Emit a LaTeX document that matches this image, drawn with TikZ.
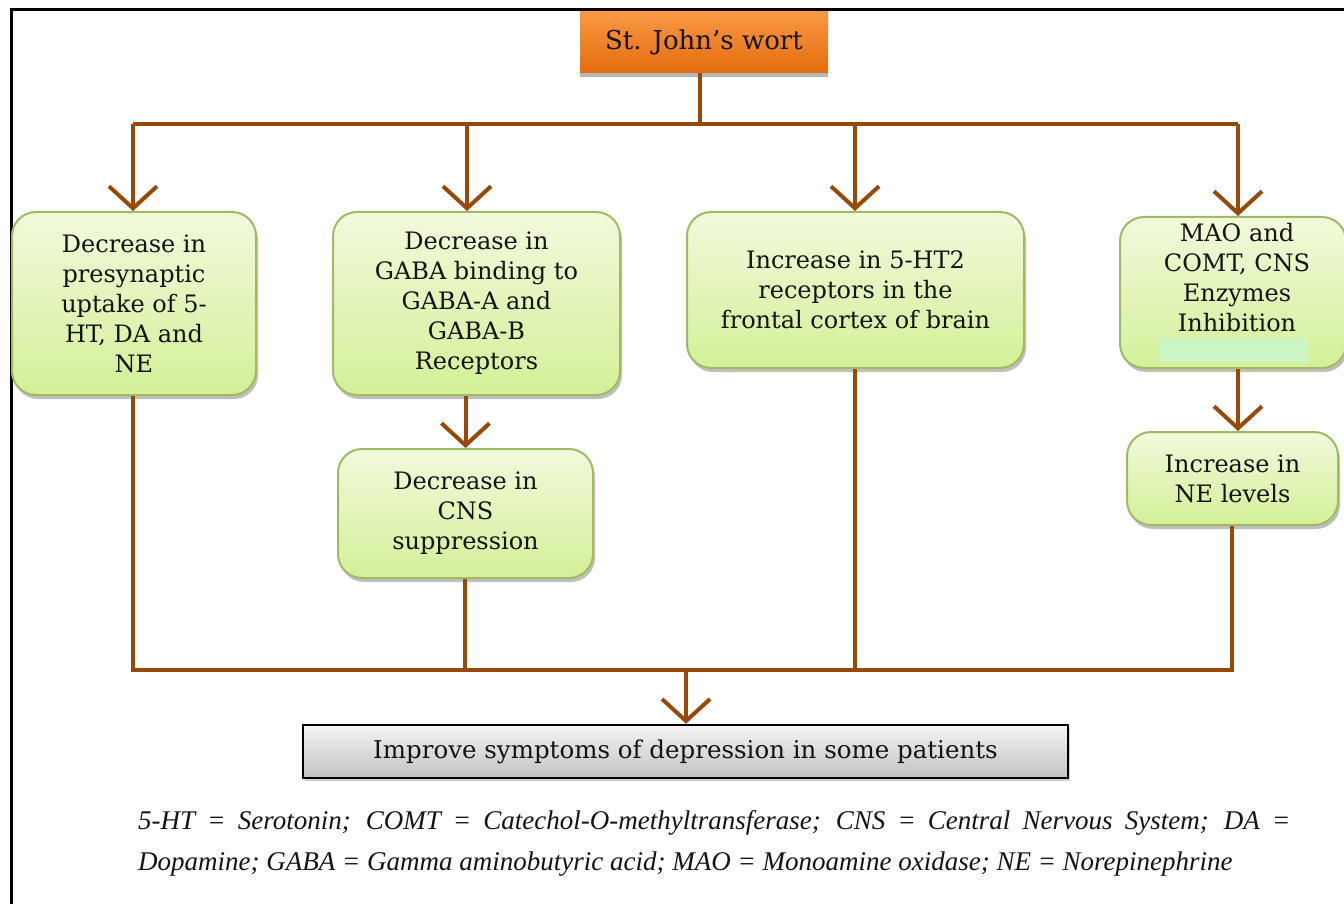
\documentclass[tikz,border=0pt]{standalone}
\usepackage{fontspec}
\newfontfamily\legendfont{Liberation Serif}
\newfontfamily\boxfont{DejaVu Serif}
\usetikzlibrary{arrows.meta,shadows}
\definecolor{conn}{RGB}{152,72,7}
\definecolor{gborder}{RGB}{160,186,100}
\definecolor{gtop}{RGB}{242,249,220}
\definecolor{gbot}{RGB}{212,240,152}
\definecolor{otop}{RGB}{248,152,68}
\definecolor{obot}{RGB}{228,108,12}
\definecolor{txt}{RGB}{20,20,20}
\definecolor{mint}{RGB}{200,248,205}
\begin{document}
\begin{tikzpicture}[x=1pt,y=-1pt,
  conn/.style={draw=conn,line width=4pt},
  arr/.style={conn,-{Straight Barb[length=22pt,width=48pt,line width=4pt]}},
  gbox/.style={draw=gborder,line width=2pt,rounded corners=24pt,top color=gtop,bottom color=gbot,
    align=center,font=\boxfont\fontsize{24}{30}\selectfont,text=txt,inner sep=0pt,
    drop shadow={shadow xshift=2pt,shadow yshift=-4pt,fill=black!45,opacity=.55}},
  btext/.style={align=center,font=\boxfont\fontsize{24}{30}\selectfont,text=txt,inner sep=0pt}]
\useasboundingbox (0,0) rectangle (1344,904);
\fill[white] (0,0) rectangle (1344,904);
% title
\node[top color=otop,bottom color=obot,minimum width=248pt,minimum height=61pt,inner sep=0pt,
  font=\boxfont\fontsize{26}{30}\selectfont,text=txt,
  drop shadow={shadow xshift=0pt,shadow yshift=-4pt,fill=black!40,opacity=.7}] (title) at (704,42.5) {St. John’s wort};
% frame
\draw[line width=3pt] (11,904) -- (11,10) -- (1345,10);
% boxes
\node[gbox,minimum width=244pt,minimum height=183pt] (b1) at (134,303.5) {Decrease in\\presynaptic\\uptake of 5-\\HT, DA and\\NE};
\node[gbox,minimum width=287pt,minimum height=183pt] (b2) at (476.5,303.5) {Decrease in\\GABA binding to\\GABA-A and\\GABA-B\\Receptors};
\node[gbox,minimum width=337pt,minimum height=156pt] (b3) at (855.5,290) {Increase in 5-HT2\\receptors in the\\frontal cortex of brain};
\node[gbox,minimum width=226pt,minimum height=151pt] (b4) at (1233,292.5) {};
\fill[mint,opacity=.8] (1160,338) rectangle (1308,362);
\node[btext] (b4t) at (1237,278) {MAO and\\COMT, CNS\\Enzymes\\Inhibition};
\node[gbox,minimum width=255pt,minimum height=129pt] (b5) at (465.5,513.5) {Decrease in\\CNS\\suppression};
\node[gbox,minimum width=211pt,minimum height=93pt] (b6) at (1232.5,478.5) {Increase in\\NE levels};
% bottom box
\node[draw=black,line width=2.5pt,top color=black!4,bottom color=black!24,minimum width=765pt,minimum height=53pt,
  inner sep=0pt,font=\boxfont\fontsize{24.5}{30}\selectfont,text=txt,
  drop shadow={shadow xshift=2pt,shadow yshift=-3pt,fill=black!30,opacity=.6}] (res) at (685.5,751.5) {Improve symptoms of depression in some patients};
% top bus
\coordinate (tj) at (700,124);
\coordinate (t1) at (133,124);
\coordinate (t2) at (467,124);
\coordinate (t3) at (855,124);
\coordinate (t4) at (1238,124);
\draw[conn] (tj |- title.south) -- (tj);
\draw[conn] (t1) -- (t4);
\draw[arr] (t1) -- (t1 |- b1.north);
\draw[arr] (t2) -- (t2 |- b2.north);
\draw[arr] (t3) -- (t3 |- b3.north);
\draw[arr] (t4) -- (t4 |- b4.north);
% middle arrows
\draw[arr] (b5.north |- b2.south) -- (b5.north);
\draw[arr] (t4 |- b4.south) -- (t4 |- b6.north);
% bottom bus
\coordinate (u1) at (133,670);
\coordinate (u2) at (465,670);
\coordinate (u3) at (855,670);
\coordinate (u4) at (1232,670);
\coordinate (uj) at (686,670);
\draw[conn] (u1 |- b1.south) -- (u1);
\draw[conn] (u2 |- b5.south) -- (u2);
\draw[conn] (u3 |- b3.south) -- (u3);
\draw[conn] (u4 |- b6.south) -- (u4);
\draw[conn] ([xshift=-2pt]u1) -- ([xshift=2pt]u4);
\draw[arr] (uj) -- (uj |- res.north);
% legend
\node[anchor=base west,inner sep=0pt,text=txt,font=\legendfont\itshape\fontsize{27}{30}\selectfont] (leg1) at (138,829)
  {\makebox[1152pt][s]{5-HT = Serotonin; COMT = Catechol-O-methyltransferase; CNS = Central Nervous System; DA =}};
\node[anchor=base west,inner sep=0pt,text=txt,font=\legendfont\itshape\fontsize{27}{30}\selectfont] (leg2) at (138,870)
  {Dopamine; GABA = Gamma aminobutyric acid; MAO = Monoamine oxidase; NE = Norepinephrine};
\end{tikzpicture}
\end{document}
